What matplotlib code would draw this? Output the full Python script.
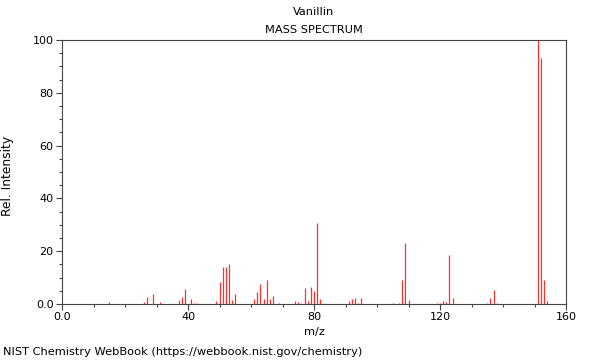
import matplotlib
matplotlib.use("Agg")
import matplotlib.pyplot as plt
from matplotlib.ticker import MultipleLocator, FixedLocator

mz = [15, 26, 27, 29, 31, 37, 38, 39, 41, 42, 43, 49, 50, 51, 52, 53, 54, 55,
      61, 62, 63, 64, 65, 66, 67, 69, 74, 75, 76, 77, 78, 79, 80, 81, 82,
      91, 92, 93, 94, 95, 105, 107, 108, 109, 110, 119, 120, 121, 122, 123, 124,
      135, 136, 137, 138, 151, 152, 153, 154]
intensity = [0.9, 0.6, 2.5, 3.8, 0.6, 1.4, 2.8, 5.8, 2.0, 0.5, 0.4, 1.3, 8.2, 14.1, 14.1, 15.3, 1.4, 3.9,
             2.0, 4.5, 7.7, 1.9, 9.2, 2.0, 3.0, 0.5, 1.3, 0.9, 0.3, 6.2, 1.0, 6.6, 5.1, 30.5, 1.8,
             1.3, 1.8, 2.4, 0.5, 2.4, 0.4, 0.5, 9.2, 23.2, 1.6, 0.5, 0.5, 1.0, 0.9, 18.4, 2.4,
             0.5, 2.3, 5.4, 0.5, 100.0, 93.2, 9.1, 1.3]

x_major = [0, 40, 80, 120, 160]
x_labels = ["0.0", "40", "80", "120", "160"]
y_major = [0, 20, 40, 60, 80, 100]
y_labels = ["0.0", "20", "40", "60", "80", "100"]

fig = plt.figure(figsize=(6, 3.6), dpi=100)
ax = fig.add_axes([62/600, 1-304/360, (566-62)/600, (304-40)/360])
ax.vlines(mz, 0, intensity, colors="#ff3030", linewidth=0.9)
ax.set_xlim(0, 160)
ax.set_ylim(0, 100)
ax.xaxis.set_major_locator(FixedLocator(x_major))
ax.set_xticklabels(x_labels)
ax.yaxis.set_major_locator(FixedLocator(y_major))
ax.set_yticklabels(y_labels)
ax.xaxis.set_minor_locator(MultipleLocator(10))
ax.yaxis.set_minor_locator(MultipleLocator(5))
ax.tick_params(which="major", direction="out", length=4, width=0.8, color="#444444", labelsize=8, pad=2)
ax.tick_params(which="minor", direction="out", length=2.5, width=0.8, color="#444444")
for s in ax.spines.values():
    s.set_color("#444444")
    s.set_linewidth(0.8)
ax.set_xlabel("m/z", fontsize=8.2, labelpad=3)
ax.set_ylabel("Rel. Intensity", fontsize=8.8)
ax.yaxis.set_label_coords(-(62 - 14) / 504, 0.485)
cx = (62 + 566) / 2 / 600
fig.text(cx, 1-12/360, "Vanillin", ha="center", va="center", fontsize=8.2)
fig.text(cx, 1-30/360, "MASS SPECTRUM", ha="center", va="center", fontsize=8.2)
fig.text(3/600, 1-352/360, "NIST Chemistry WebBook (https://webbook.nist.gov/chemistry)", ha="left", va="center", fontsize=8.2)
fig.savefig("out.png", dpi=100)
